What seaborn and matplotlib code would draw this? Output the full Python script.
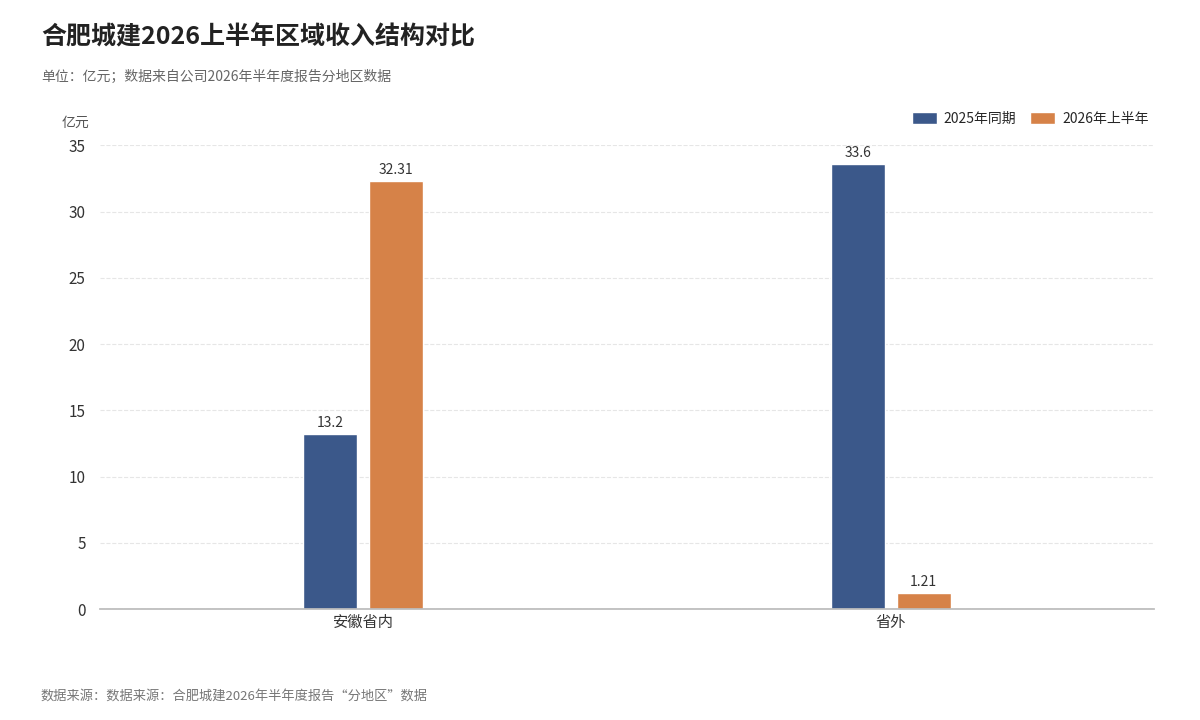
import matplotlib.pyplot as plt
import pandas as pd
import seaborn as sns

regions = ["安徽省内", "省外"]
series = ["2025年同期", "2026年上半年"]
values_2025 = [13.2, 33.6]
values_2026 = [32.31, 1.21]
labels_2025 = ["13.2", "33.6"]
labels_2026 = ["32.31", "1.21"]
colors = ["#2E5597", "#ED7D31"]

sns.set_theme(style="white")
plt.rcParams["font.family"] = ["Noto Sans CJK SC", "DejaVu Sans"]

df = pd.DataFrame({
    "region": regions * 2,
    "series": [series[0]] * 2 + [series[1]] * 2,
    "value": values_2025 + values_2026,
})

fig = plt.figure(figsize=(12, 7.2), dpi=100)
ax = fig.add_axes([0.083, 0.154, 0.879, 0.644])
sns.barplot(data=df, x="region", y="value", hue="series", palette=colors,
            width=0.25, gap=0.18, ax=ax, legend=True)

for cont, labs in zip(ax.containers, [labels_2025, labels_2026]):
    ax.bar_label(cont, labels=labs, padding=3, fontsize=10, color="#333333")

ax.set_xlim(-0.5, 1.5)
ax.set_ylim(0, 35)
ax.set_yticks(range(0, 36, 5))
ax.set_xlabel("")
ax.set_ylabel("")
ax.yaxis.grid(True, color="#e6e6e6", linestyle="--", linewidth=0.8)
ax.set_axisbelow(True)
for s in ["top", "right", "left"]:
    ax.spines[s].set_visible(False)
ax.spines["bottom"].set_color("#bbbbbb")
ax.tick_params(axis="both", labelsize=11, colors="#333333", length=0)
ax.tick_params(axis="y", pad=10)
ax.text(-0.01, 1.04, "亿元", transform=ax.transAxes, ha="right", fontsize=10, color="#555555")

ax.legend(loc="lower right", bbox_to_anchor=(1.0, 1.03), ncol=2, frameon=False,
          fontsize=10, handlelength=1.8, handleheight=0.9, columnspacing=1.0,
          handletextpad=0.5, borderaxespad=0)

fig.text(0.034, 0.938, "合肥城建2026上半年区域收入结构对比", fontsize=18, fontweight="bold", color="#222222")
fig.text(0.034, 0.888, "单位：亿元；数据来自公司2026年半年度报告分地区数据", fontsize=10, color="#666666")
fig.text(0.034, 0.028, "数据来源：数据来源：合肥城建2026年半年度报告“分地区”数据", fontsize=9.5, color="#777777")

fig.savefig("out.png", dpi=100)
